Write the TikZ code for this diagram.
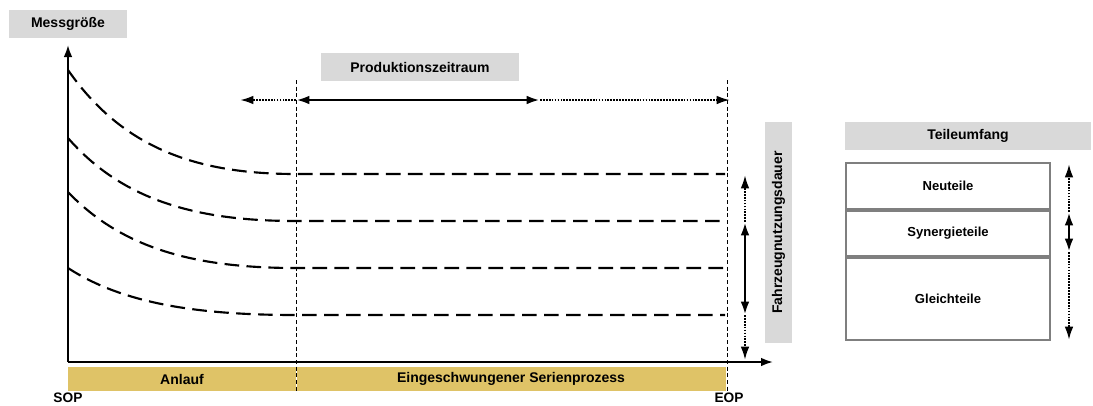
\documentclass[tikz,border=0pt]{standalone}
\usepackage{fontspec}
\setmainfont{Liberation Sans}
\usetikzlibrary{arrows.meta,positioning}
\definecolor{lblgray}{RGB}{217,217,217}
\definecolor{boxgray}{RGB}{127,127,127}
\definecolor{phasegold}{RGB}{223,195,103}

\begin{document}
\begin{tikzpicture}[x=0.75pt,y=-0.75pt,
    lbl/.style={fill=lblgray,inner sep=0pt,minimum height=21pt,
      font=\bfseries\fontsize{10.5}{12}\selectfont},
    part/.style={draw=boxgray,line width=1.5pt,inner sep=0pt,minimum width=153pt,
      font=\bfseries\fontsize{9.8}{12}\selectfont},
    phase/.style={fill=phasegold,inner sep=0pt,minimum height=18pt,
      font=\bfseries\fontsize{10.5}{12}\selectfont},
    milestone/.style={font=\bfseries\fontsize{10.3}{12}\selectfont,inner sep=0pt},
    axis/.style={line width=1.5pt,-{Latex[length=9pt,width=6.5pt]}},
    curve/.style={line width=1.6pt,dash pattern=on 11pt off 5.5pt},
    guide/.style={line width=0.7pt,dash pattern=on 3pt off 2pt},
    dotline/.style={line width=1.6pt,dash pattern=on 1.3pt off 0.9pt},
    fullline/.style={line width=2pt},
    tip/.tip={Latex[length=10pt,width=6.5pt]}]
 \useasboundingbox (0,0) rectangle (1093,405);
 % labels
 \node[lbl,minimum width=88.5pt] (mess) at (68,24) {Messgröße};
 \node[lbl,minimum width=148.5pt] (prod) at (420,67) {Produktionszeitraum};
 \node[lbl,minimum width=165.75pt,minimum height=20.25pt,rotate=90] (fahr)
  at (778.5,232.5) {Fahrzeugnutzungsdauer};
 \node[lbl,minimum width=184.5pt] (teil) at (968,136) {Teileumfang};
 % axes
 \coordinate (O) at (68,362);
 \coordinate (ytop) at (68,45);
 \coordinate (xend) at (773,362);
 \draw[axis] (O) -- (ytop);
 \draw[axis] (O) -- (xend);
 % phases
 \node[phase,minimum width=171pt] (anl) at (182,379) {Anlauf};
 \node[phase,minimum width=321.75pt,right=0pt of anl] (ser) {Eingeschwungener Serienprozess};
 \node[milestone] (sop) at (68,398) {SOP};
 \node[milestone] (eop) at (729,398) {EOP};
 \draw[guide] (296,80) -- (296,393);
 \draw[guide] (727,80) -- (727,392);
 % curves
 \foreach \ya/\yb in {70/174,138/221,192/268,268/315}
  \draw[curve] (68,\ya) .. controls (123,{\ya+0.76*(\yb-\ya)}) and (198,\yb) .. (296,\yb) -- (725,\yb);
 % production period
 \coordinate (pl) at (240,100);
 \coordinate (ps) at (296,100);
 \coordinate (pm) at (540,100);
 \coordinate (pe) at (730,100);
 \draw[dotline,-{tip}] (ps) -- (pl);
 \draw[fullline,{tip}-{tip}] (ps) -- (pm);
 \draw[dotline,-{tip}] (pm) -- (pe);
 % usage period
 \coordinate (fa) at (745,175);
 \coordinate (fb) at (745,222);
 \coordinate (fc) at (745,315);
 \coordinate (fd) at (745,360);
 \draw[dotline,-{tip}] (fb) -- (fa);
 \draw[fullline,{tip}-{tip}] (fb) -- (fc);
 \draw[dotline,-{tip}] (fc) -- (fd);
 % parts
 \node[part,minimum height=34.5pt] (neu) at (948,186) {Neuteile};
 \node[part,minimum height=33.75pt,below=0pt of neu] (syn) {Synergieteile};
 \node[part,minimum height=61.5pt,below=0pt of syn] (gle) {Gleichteile};
 \coordinate (ta) at (1069,164);
 \coordinate (tb) at (1069,212);
 \coordinate (tc) at (1069,252);
 \coordinate (td) at (1069,340);
 \draw[dotline,-{tip}] (tb) -- (ta);
 \draw[fullline,{tip}-{tip}] (tb) -- (tc);
 \draw[dotline,-{tip}] (tc) -- (td);
\end{tikzpicture}
\end{document}
